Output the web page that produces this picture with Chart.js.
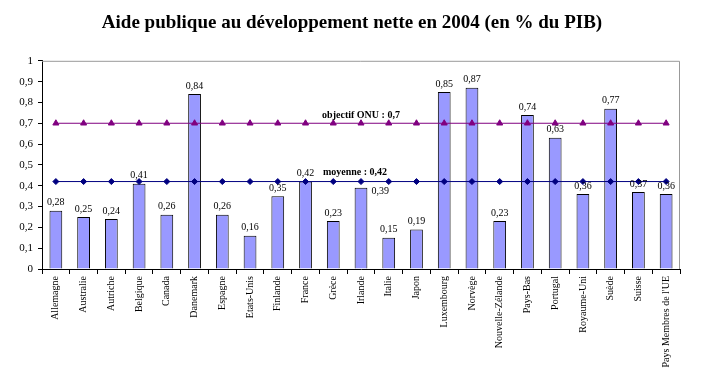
<!DOCTYPE html>
<html>
<head>
    <title>Aide publique au développement</title>
    <script src="https://cdn.jsdelivr.net/npm/chart.js"></script>
    <style>
        body { margin: 0; background: #fff; }
        #wrap { width: 704px; height: 373px; }
    </style>
</head>
<body>
    <div id="wrap"><canvas id="myChart" width="704" height="373"></canvas></div>

    <script>
        var categories = ['Allemagne', 'Australie', 'Autriche', 'Belgique', 'Canada', 'Danemark', 'Espagne',
            'Etats-Unis', 'Finlande', 'France', 'Grèce', 'Irlande', 'Italie', 'Japon', 'Luxembourg',
            'Norvège', 'Nouvelle-Zélande', 'Pays-Bas', 'Portugal', 'Royaume-Uni', 'Suède', 'Suisse',
            "Pays Membres de l'UE"];
        var aidePib = [0.28, 0.25, 0.24, 0.41, 0.26, 0.84, 0.26, 0.16, 0.35, 0.42, 0.23, 0.39, 0.15, 0.19,
            0.85, 0.87, 0.23, 0.74, 0.63, 0.36, 0.77, 0.37, 0.36];
        var objectifOnu = 0.7;
        var moyenne = 0.42;
        var yTicks = [0, 0.1, 0.2, 0.3, 0.4, 0.5, 0.6, 0.7, 0.8, 0.9, 1];

        var serif = "'Liberation Serif', 'Times New Roman', serif";

        function fr(v) {
            return String(v).replace('.', ',');
        }

        // value labels above bars + labels for the two reference lines + grey frame
        var extras = {
            id: 'extras',
            afterDatasetsDraw: function (chart) {
                var c = chart.ctx;
                var area = chart.chartArea;
                var x = chart.scales.x, y = chart.scales.y;
                c.save();
                c.strokeStyle = '#999';
                c.lineWidth = 1;
                c.beginPath();
                c.moveTo(area.left, area.top + 0.5);
                c.lineTo(area.right - 0.5, area.top + 0.5);
                c.lineTo(area.right - 0.5, area.bottom);
                c.stroke();

                c.fillStyle = '#000';
                c.textBaseline = 'bottom';

                // line labels, centred on the Irlande column
                c.font = 'bold 10px ' + serif;
                c.textAlign = 'center';
                var onuX = x.getPixelForValue(11), onuY = y.getPixelForValue(objectifOnu) - 3;
                c.fillText('objectif ONU : ' + fr(objectifOnu), onuX, onuY);
                var moyText = 'moyenne : ' + fr(moyenne);
                var moyX = x.getPixelForValue(11) - 6, moyY = y.getPixelForValue(moyenne) - 4;
                var moyW = c.measureText(moyText).width;
                c.fillText(moyText, moyX, moyY);

                c.font = '10px ' + serif;
                var meta = chart.getDatasetMeta(0);
                meta.data.forEach(function (bar, i) {
                    var txt = fr(aidePib[i]);
                    var top = bar.y - 3;
                    var hitsMoy = Math.abs(bar.x - moyX) < moyW / 2 + 10 && top > moyY - 10 && top - 10 < moyY;
                    if (hitsMoy) {
                        c.textAlign = 'left';
                        c.textBaseline = 'middle';
                        c.fillText(txt, bar.x + bar.width / 2 + 4, bar.y + 4);
                        c.textBaseline = 'bottom';
                    } else {
                        c.textAlign = 'center';
                        c.fillText(txt, bar.x, top);
                    }
                });
                c.restore();
            }
        };

        var ctx = document.getElementById('myChart').getContext('2d');
        var myChart = new Chart(ctx, {
            data: {
                labels: categories,
                datasets: [{
                    type: 'bar',
                    label: 'APD',
                    data: aidePib,
                    backgroundColor: '#9999FF',
                    borderColor: '#000',
                    borderWidth: 1,
                    barPercentage: 0.46,
                    categoryPercentage: 1,
                    order: 1
                }, {
                    type: 'line',
                    label: 'moyenne',
                    data: categories.map(function () { return moyenne; }),
                    borderColor: '#000080',
                    backgroundColor: '#000080',
                    borderWidth: 1,
                    pointStyle: 'rectRot',
                    pointRadius: 3,
                    order: 0
                }, {
                    type: 'line',
                    label: 'objectif ONU',
                    data: categories.map(function () { return objectifOnu; }),
                    borderColor: '#800080',
                    backgroundColor: '#800080',
                    borderWidth: 1,
                    pointStyle: 'triangle',
                    pointRadius: 3.5,
                    order: 0
                }]
            },
            options: {
                responsive: false,
                animation: false,
                layout: { padding: 0 },
                plugins: {
                    legend: { display: false },
                    tooltip: { enabled: false },
                    title: {
                        display: true,
                        text: 'Aide publique au développement nette en 2004 (en % du PIB)',
                        color: '#000',
                        font: { family: serif, size: 19, weight: 'bold' },
                        padding: { top: 12, bottom: 26 }
                    }
                },
                scales: {
                    x: {
                        grid: { drawOnChartArea: false, color: '#000', tickLength: 5, offset: true },
                        border: { color: '#000' },
                        ticks: {
                            color: '#000',
                            font: { family: serif, size: 10 },
                            minRotation: 90,
                            maxRotation: 90,
                            autoSkip: false,
                            padding: 2
                        },
                        afterFit: function (s) { s.height = 104; }
                    },
                    y: {
                        min: 0,
                        max: 1,
                        afterBuildTicks: function (s) {
                            s.ticks = yTicks.map(function (v) { return { value: v }; });
                        },
                        grid: { drawOnChartArea: false, color: '#000', tickLength: 4 },
                        border: { color: '#000' },
                        ticks: {
                            color: '#000',
                            font: { family: serif, size: 11 },
                            padding: 5,
                            callback: function (v) { return fr(v); }
                        },
                        afterFit: function (s) { s.width = 42; }
                    },
                    // empty right-hand gutter so the title stays centred on the page
                    gutter: {
                        axis: 'y',
                        position: 'right',
                        grid: { display: false },
                        border: { display: false },
                        ticks: { display: false },
                        afterFit: function (s) { s.width = 24; }
                    }
                }
            },
            plugins: [extras]
        });
    </script>
</body>
</html>
